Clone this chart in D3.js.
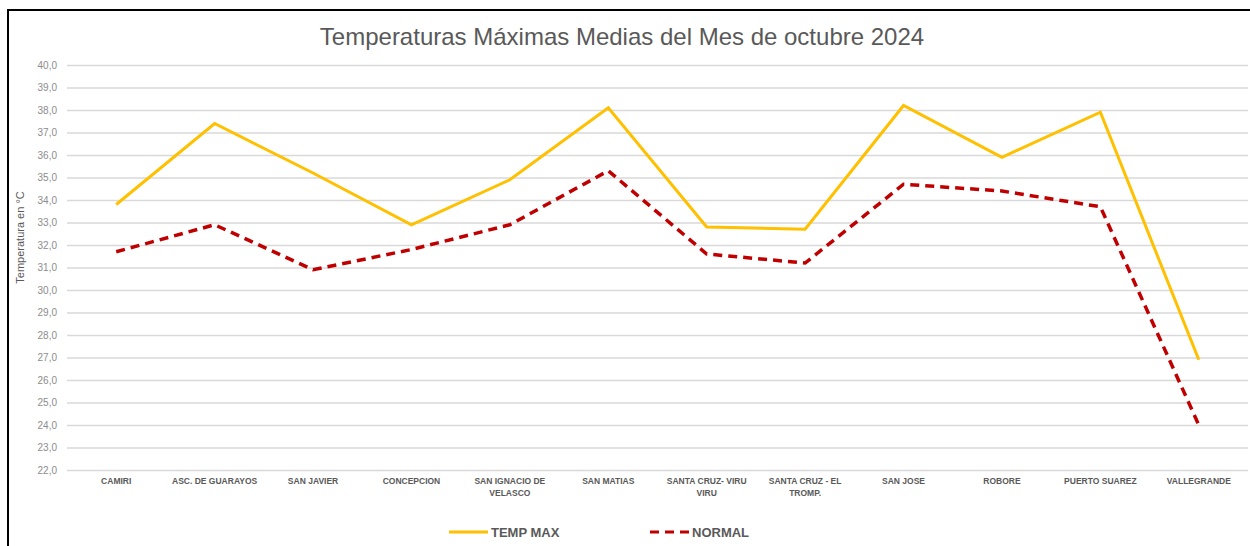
<!DOCTYPE html>
<html>
<head>
<meta charset="utf-8">
<script src="https://cdn.jsdelivr.net/npm/d3@7"></script>
<style>
  body { margin: 0; background: #fff; }
  svg { display: block; font-family: "Liberation Sans", Arial, sans-serif; }
</style>
</head>
<body>
<div id="chart"></div>
<script>
var categories = ["CAMIRI", "ASC. DE GUARAYOS", "SAN JAVIER", "CONCEPCION", "SAN IGNACIO DE|VELASCO",
  "SAN MATIAS", "SANTA CRUZ- VIRU|VIRU", "SANTA CRUZ - EL|TROMP.", "SAN JOSE", "ROBORE",
  "PUERTO SUAREZ", "VALLEGRANDE"];
var tempMax = [33.8, 37.4, 35.2, 32.9, 34.9, 38.1, 32.8, 32.7, 38.2, 35.9, 37.9, 26.9];
var normal = [31.7, 32.9, 30.9, 31.8, 32.9, 35.3, 31.6, 31.2, 34.7, 34.4, 33.7, 24.0];
var yTicks = d3.range(22, 40.01, 1);

var W = 1250, H = 546;
var margin = {top: 65, right: 2, bottom: 76, left: 67};
var width = W - margin.left - margin.right;
var height = H - margin.top - margin.bottom;

var svg = d3.select("#chart").append("svg")
    .attr("width", W)
    .attr("height", H);

// chart border
svg.append("rect")
    .attr("x", 8).attr("y", 10)
    .attr("width", W).attr("height", H)
    .attr("fill", "none")
    .attr("stroke", "#000")
    .attr("stroke-width", 2);

svg.append("text")
    .attr("x", 622).attr("y", 45)
    .attr("text-anchor", "middle")
    .attr("fill", "#595959")
    .style("font-size", "24px")
    .text("Temperaturas Máximas Medias del Mes de octubre 2024");

var g = svg.append("g")
    .attr("transform", "translate(" + margin.left + "," + margin.top + ")");

var xScale = d3.scaleBand().domain(categories).range([0, width]);
var yScale = d3.scaleLinear().domain([22, 40]).range([height, 0]);

var yAxis = d3.axisLeft(yScale)
    .tickValues(yTicks)
    .tickSize(-width)
    .tickPadding(10)
    .tickFormat(function(d) { return d3.format(".1f")(d).replace(".", ","); });

var yG = g.append("g").call(yAxis);
yG.select(".domain").remove();
yG.selectAll(".tick line").attr("stroke", "#d9d9d9").attr("stroke-width", 1.3);
yG.selectAll(".tick text")
    .attr("fill", "#8c8c8c")
    .style("font-size", "10px");

var xAxis = d3.axisBottom(xScale).tickSize(0).tickPadding(9)
    .tickFormat(function(d) { return ""; });
var xG = g.append("g")
    .attr("transform", "translate(0," + height + ")")
    .call(xAxis);
xG.select(".domain").remove();
xG.selectAll(".tick").each(function(d) {
  var t = d3.select(this).append("text")
      .attr("text-anchor", "middle")
      .attr("fill", "#595959")
      .style("font-size", "8.5px")
      .style("font-weight", "bold");
  d.split("|").forEach(function(line, i) {
    t.append("tspan").attr("x", 0).attr("y", 14 + i * 12).text(line);
  });
});

svg.append("text")
    .attr("transform", "translate(24," + (margin.top + height / 2 - 30) + ") rotate(-90)")
    .attr("text-anchor", "middle")
    .attr("fill", "#595959")
    .style("font-size", "11px")
    .text("Temperatura en °C");

var cx = function(d, i) { return xScale(categories[i]) + xScale.bandwidth() / 2; };

var line = d3.line()
    .x(function(d, i) { return cx(d, i); })
    .y(function(d) { return yScale(d); });

g.append("path")
    .datum(normal)
    .attr("fill", "none")
    .attr("stroke", "#c00000")
    .attr("stroke-width", 3.5)
    .attr("stroke-dasharray", "9,6")
    .attr("d", line);

g.append("path")
    .datum(tempMax)
    .attr("fill", "none")
    .attr("stroke", "#ffc000")
    .attr("stroke-width", 3)
    .attr("stroke-linejoin", "miter")
    .attr("d", line);

// legend
var legend = [
  {name: "TEMP MAX", color: "#ffc000", dash: null, x: 449},
  {name: "NORMAL", color: "#c00000", dash: "9,6", x: 650}
];
legend.forEach(function(l) {
  svg.append("line")
      .attr("x1", l.x).attr("x2", l.x + 39)
      .attr("y1", 532).attr("y2", 532)
      .attr("stroke", l.color)
      .attr("stroke-width", 3)
      .attr("stroke-dasharray", l.dash);
  svg.append("text")
      .attr("x", l.x + 42).attr("y", 537)
      .attr("fill", "#595959")
      .style("font-size", "13px")
      .style("font-weight", "bold")
      .text(l.name);
});
</script>
</body>
</html>
